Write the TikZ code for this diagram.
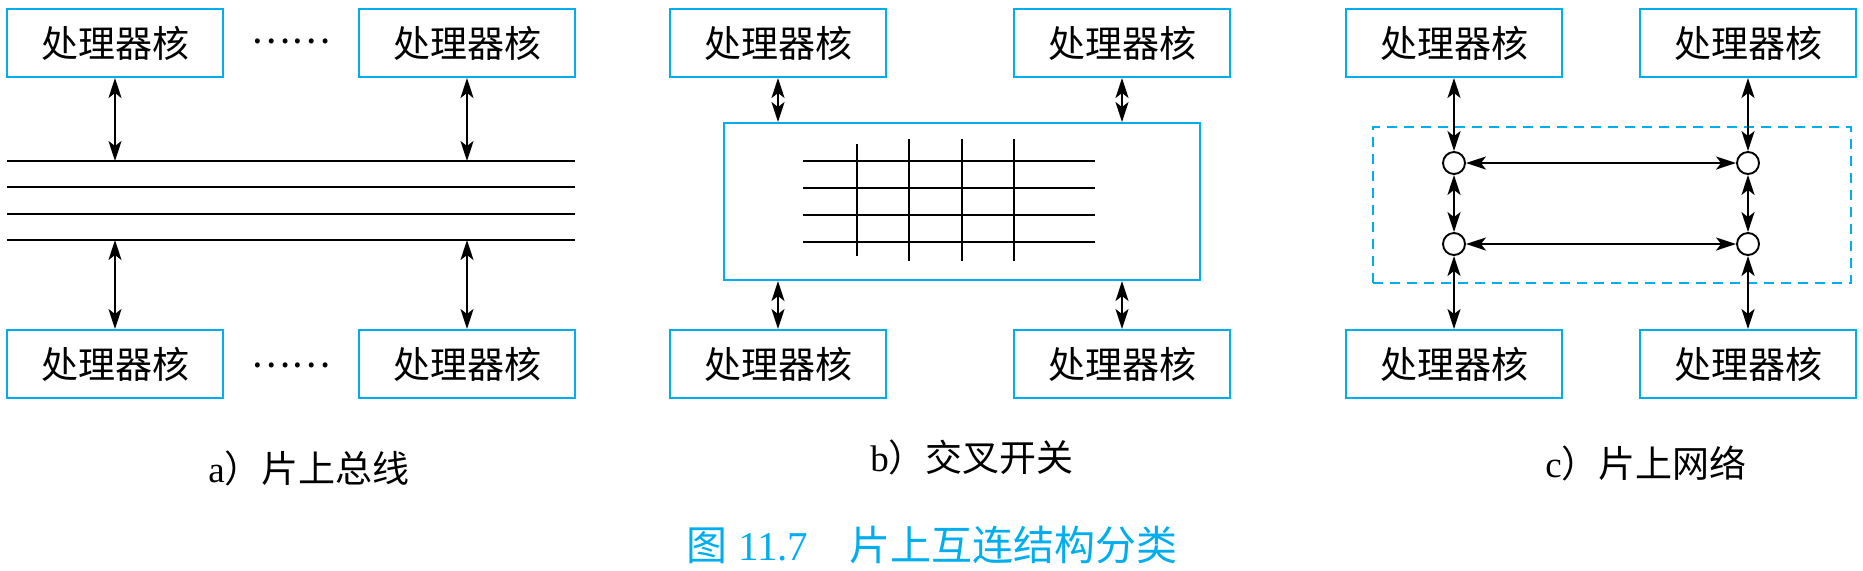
\documentclass[tikz,border=0pt]{standalone}
\usepackage{fontspec}
\setmainfont{Liberation Serif}
\newfontfamily\cjk{Noto Sans CJK SC}
\usetikzlibrary{arrows.meta}
\definecolor{chipcyan}{RGB}{0,174,239}

\begin{document}
\begin{tikzpicture}[
    x=0.5pt, y=-0.5pt,
    core/.style={draw=chipcyan, line width=1pt, minimum width=108pt, minimum height=34pt, inner sep=0pt, font=\cjk\fontsize{18.5}{20}\selectfont},
    link/.style={{Stealth[length=10pt,width=6.5pt,inset=2.5pt]}-{Stealth[length=10pt,width=6.5pt,inset=2.5pt]}, line width=0.95pt},
    wire/.style={line width=1pt},
    router/.style={circle, draw, line width=0.95pt, minimum size=11pt, inner sep=0pt},
    sub/.style={font=\fontsize{18.5}{20}\selectfont}
  ]
  \useasboundingbox (0,0) rectangle (1863,570);

  % a) on-chip bus
  \node[core] (a1) at (115,43) {处理器核};
  \node[core] (a2) at (467,43) {处理器核};
  \node[core] (a3) at (115,364) {处理器核};
  \node[core] (a4) at (467,364) {处理器核};
  \node[font=\cjk\fontsize{18.5}{20}\selectfont] (adots1) at (291,41) {……};
  \node[font=\cjk\fontsize{18.5}{20}\selectfont] (adots2) at (291,365) {……};
  \foreach \y in {161,187,214,240}
    \draw[wire] (7,\y) -- (575,\y);
  \coordinate (bustop) at (0,161);
  \coordinate (busbot) at (0,240);
  \draw[link] (a1.south) -- (a1.south |- bustop);
  \draw[link] (a2.south) -- (a2.south |- bustop);
  \draw[link] (a3.north) -- (a3.north |- busbot);
  \draw[link] (a4.north) -- (a4.north |- busbot);
  \node[sub] (capa) at (309,468) {a{\cjk ）片上总线}};

  % b) crossbar switch
  \node[core] (b1) at (778,43) {处理器核};
  \node[core] (b2) at (1122,43) {处理器核};
  \node[core] (b3) at (778,364) {处理器核};
  \node[core] (b4) at (1122,364) {处理器核};
  \node[draw=chipcyan, line width=1pt, minimum width=238pt, minimum height=78.5pt] (xbar) at (962,201.5) {};
  \foreach \y in {161,188,215,242}
    \draw[wire] (803,\y) -- (1095,\y);
  \draw[wire] (857,144) -- (857,256);
  \foreach \x in {909,962,1014}
    \draw[wire] (\x,139) -- (\x,261);
  \draw[link] (b1.south) -- (b1.south |- xbar.north);
  \draw[link] (b2.south) -- (b2.south |- xbar.north);
  \draw[link] (b3.north) -- (b3.north |- xbar.south);
  \draw[link] (b4.north) -- (b4.north |- xbar.south);
  \node[sub] (capb) at (972,457) {b{\cjk ）交叉开关}};

  % c) network on chip
  \node[core] (c1) at (1454,43) {处理器核};
  \node[core] (c2) at (1748,43) {处理器核};
  \node[core] (c3) at (1454,364) {处理器核};
  \node[core] (c4) at (1748,364) {处理器核};
  \node[draw=chipcyan, line width=1pt, dash pattern=on 5pt off 3.5pt, minimum width=239pt, minimum height=78pt] (noc) at (1612,205) {};
  \node[router] (r1) at (1454,163) {};
  \node[router] (r2) at (1748,163) {};
  \node[router] (r3) at (1454,244) {};
  \node[router] (r4) at (1748,244) {};
  \draw[link] (c1) -- (r1);
  \draw[link] (c2) -- (r2);
  \draw[link] (r1) -- (r2);
  \draw[link] (r3) -- (r4);
  \draw[link] (r1) -- (r3);
  \draw[link] (r2) -- (r4);
  \draw[link] (r3) -- (c3);
  \draw[link] (r4) -- (c4);
  \node[sub] (capc) at (1646,463) {c{\cjk ）片上网络}};

  % figure caption
  \node[text=chipcyan, inner sep=1pt, font=\fontsize{20.5}{22}\selectfont] (fig) at (932,545) {{\cjk 图}~11.7{\cjk 　片上互连结构分类}};
\end{tikzpicture}
\end{document}
